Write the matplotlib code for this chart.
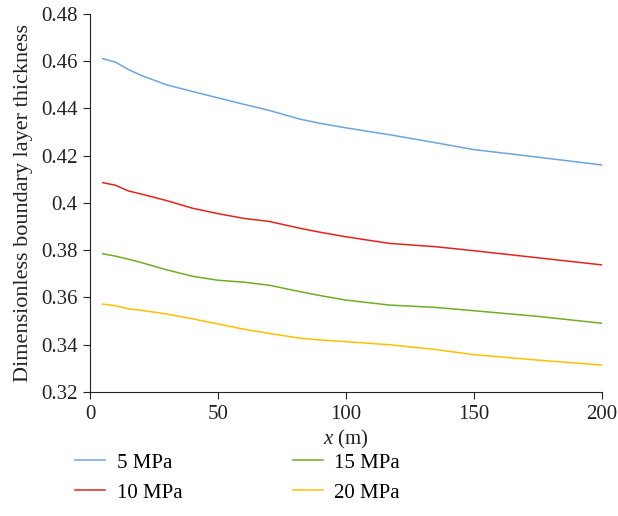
import matplotlib.pyplot as plt

plt.rcParams["font.family"] = ["Liberation Serif", "DejaVu Serif"]
plt.rcParams["mathtext.fontset"] = "custom"
plt.rcParams["mathtext.it"] = "Liberation Serif:italic"
plt.rcParams["mathtext.rm"] = "Liberation Serif"

x = [5, 10, 15, 20, 30, 40, 50, 60, 70, 82, 90, 100, 117, 135, 150, 175, 200]
p5 = [0.4611, 0.4596, 0.4565, 0.4540, 0.4500, 0.4472, 0.4445, 0.4418, 0.4392, 0.4355, 0.4337, 0.4318, 0.4289, 0.4255, 0.4226, 0.4194, 0.4161]
p10 = [0.4086, 0.4075, 0.4051, 0.4038, 0.4010, 0.3978, 0.3955, 0.3935, 0.3922, 0.3893, 0.3876, 0.3857, 0.3829, 0.3815, 0.3798, 0.3768, 0.3738]
p15 = [0.3785, 0.3775, 0.3762, 0.3748, 0.3717, 0.3690, 0.3673, 0.3665, 0.3652, 0.3625, 0.3608, 0.3589, 0.3568, 0.3558, 0.3544, 0.3520, 0.3491]
p20 = [0.3572, 0.3565, 0.3552, 0.3546, 0.3530, 0.3510, 0.3488, 0.3466, 0.3448, 0.3428, 0.3420, 0.3413, 0.3400, 0.3380, 0.3358, 0.3335, 0.3314]

labels = ["5 MPa", "10 MPa", "15 MPa", "20 MPa"]
colors = ["#6CA5DE", "#E3241B", "#6EAE22", "#FFC000"]

fig = plt.figure(figsize=(6.18, 5.16), dpi=100)
ax = fig.add_axes([0.1456, 0.2403, 0.8284, 0.7326])

for ys, lab, c in zip([p5, p10, p15, p20], labels, colors):
    ax.plot(x, ys, color=c, lw=1.1, label=lab)

ax.set_xlim(0, 200)
ax.set_ylim(0.32, 0.48)
ax.set_xticks([0, 50, 100, 150, 200])
ax.set_yticks([0.32, 0.34, 0.36, 0.38, 0.4, 0.42, 0.44, 0.46, 0.48])
ax.set_yticklabels(["0.32", "0.34", "0.36", "0.38", "0.4", "0.42", "0.44", "0.46", "0.48"])
ax.spines["top"].set_visible(False)
ax.spines["right"].set_visible(False)
ax.tick_params(labelsize=15, color="#222222", labelcolor="#222222", length=5, pad=4)
ax.spines["left"].set_color("#222222")
ax.spines["bottom"].set_color("#222222")

ax.set_xlabel("$x$ (m)", fontsize=15, color="#222222", labelpad=3)
ax.set_ylabel("Dimensionless boundary layer thickness", fontsize=16, color="#222222", labelpad=6)

fig.legend(loc="upper left", bbox_to_anchor=(75 / 618, 1 - 453 / 516), ncol=2, frameon=False,
           fontsize=15, handlelength=1.45, columnspacing=5.3, labelspacing=0.5,
           handletextpad=0.55, borderpad=0, borderaxespad=0)

fig.savefig("out.png", dpi=100)
